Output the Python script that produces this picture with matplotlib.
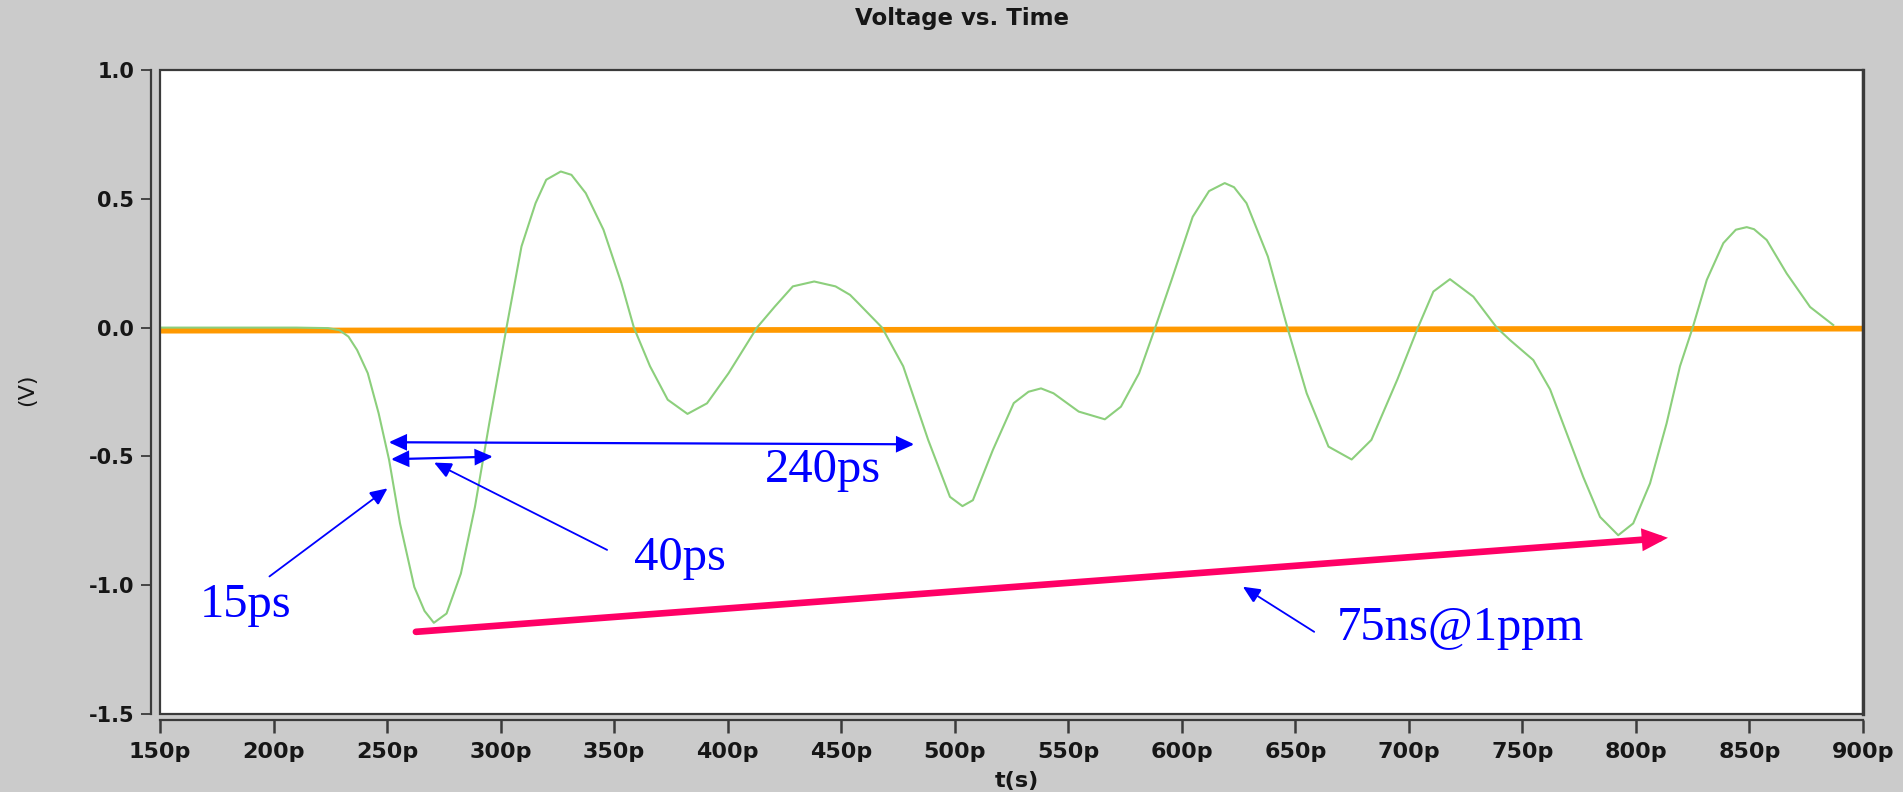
import matplotlib
matplotlib.use("Agg")
import matplotlib.pyplot as plt
from matplotlib.patches import ArrowStyle, Rectangle

# ---------------- data ----------------
title = "Voltage vs. Time"
x_label = "t(s)"
y_label = "(V)"

x_ticks = [150, 200, 250, 300, 350, 400, 450, 500, 550, 600, 650, 700, 750, 800, 850, 900]
x_tick_labels = ["150p", "200p", "250p", "300p", "350p", "400p", "450p", "500p",
                 "550p", "600p", "650p", "700p", "750p", "800p", "850p", "900p"]
y_ticks = [-1.5, -1.0, -0.5, 0.0, 0.5, 1.0]
y_tick_labels = ["-1.5", "-1.0", "-0.5", "0.0", "0.5", "1.0"]

# green trace (time in ps, voltage in V)
green_t = [150, 180, 210, 224, 229, 233, 236.8, 241.5, 246.3, 250.9, 255.7, 262, 266.5,
           270.6, 276.2, 282.5, 288.7, 295, 302.6, 309.2, 315.4, 320.1, 326.5, 331.2,
           337.5, 345.3, 353.2, 358.7, 365.8, 373.6, 382.3, 390.9, 400.4, 412.9, 420.8,
           428.7, 438.1, 447.5, 453.9, 457.5, 468, 477.3, 488.3, 497.9, 503.4, 508,
           516.8, 526, 532.5, 538, 543.5, 554.6, 566.1, 573.2, 581.2, 588.3, 595.5,
           604.8, 612, 618.9, 623, 628.5, 637.9, 646.5, 655, 664.6, 674.8, 683.5, 695,
           704, 710.8, 718.1, 728.4, 738.7, 744.5, 754.8, 762.2, 769.5, 776.8, 784.2,
           792.2, 798.8, 806.2, 813.5, 819.4, 825, 831.2, 838.5, 844, 848.8, 852, 857.6,
           866.4, 876.7, 886.9]
green_v = [0.0, 0.0, 0.0, -0.002, -0.01, -0.035, -0.087, -0.177, -0.333, -0.514, -0.76,
           -1.007, -1.10, -1.146, -1.11, -0.955, -0.696, -0.372, 0.0, 0.315, 0.483, 0.574,
           0.606, 0.593, 0.522, 0.38, 0.172, 0.0, -0.15, -0.28, -0.335, -0.294, -0.177,
           0.0, 0.082, 0.16, 0.179, 0.16, 0.127, 0.095, 0.0, -0.15, -0.436, -0.657,
           -0.693, -0.67, -0.475, -0.293, -0.249, -0.236, -0.255, -0.326, -0.356, -0.307,
           -0.177, 0.0, 0.185, 0.43, 0.53, 0.561, 0.545, 0.483, 0.276, 0.0, -0.255,
           -0.462, -0.512, -0.436, -0.2, 0.0, 0.14, 0.188, 0.12, 0.0, -0.048, -0.126,
           -0.24, -0.41, -0.58, -0.735, -0.806, -0.76, -0.605, -0.372, -0.15, 0.0, 0.185,
           0.328, 0.38, 0.39, 0.382, 0.34, 0.21, 0.08, 0.01]

# orange reference trace
orange_t = [150, 900]
orange_v = [-0.012, -0.004]

# annotation labels
ann_texts = ["15ps", "40ps", "240ps", "75ns@1ppm"]

# ---------------- figure ----------------
W, H = 1903, 792
BG = "#cbcbcb"
AX_C = "#3a3a3a"
BLUE = "#0000ff"
PINK = "#ff0066"

fig = plt.figure(figsize=(W / 100, H / 100), dpi=100, facecolor=BG)
ax = fig.add_axes([160 / W, 1 - 714 / H, 1703 / W, 644 / H])
ax.set_facecolor("white")
ax.set_xlim(150, 900)
ax.set_ylim(-1.5, 1.0)

# spines: offset axis lines like the original
for s in ("top", "right"):
    ax.spines[s].set_visible(False)
ax.spines["left"].set_position(("outward", 6.5))
ax.spines["bottom"].set_position(("outward", 4))
for s in ("left", "bottom"):
    ax.spines[s].set_color(AX_C)
    ax.spines[s].set_linewidth(1.6)

# plot frame
ax.add_patch(Rectangle((0, 0), 1, 1, transform=ax.transAxes, fill=False,
                       edgecolor=AX_C, linewidth=1.6, clip_on=False, zorder=6))
ax.plot([1, 1], [0, 1], transform=ax.transAxes, color=AX_C, lw=2.4,
        clip_on=False, zorder=6)

ax.set_xticks(x_ticks)
ax.set_xticklabels(x_tick_labels)
ax.set_yticks(y_ticks)
ax.set_yticklabels(y_tick_labels)
ax.tick_params(axis="x", direction="out", length=9.5, width=1.8, pad=7,
               color=AX_C, labelcolor="#161616", labelsize=16)
ax.tick_params(axis="y", direction="out", length=7, width=1.3, pad=5,
               color=AX_C, labelcolor="#161616", labelsize=15)
for lab in ax.get_xticklabels() + ax.get_yticklabels():
    lab.set_fontfamily("DejaVu Sans")
    lab.set_fontweight("bold")

# traces
ax.plot(orange_t, orange_v, color="#ff9900", lw=4.1, solid_capstyle="butt", zorder=3)
ax.plot(green_t, green_v, color="#8ccf7c", lw=1.5, zorder=4)

# annotations
def arrow(tail, tip, style, lw, color, hl, hw):
    ax.annotate("", xy=tip, xytext=tail,
                arrowprops=dict(arrowstyle=ArrowStyle(style, head_length=hl, head_width=hw),
                                mutation_scale=1, lw=lw, color=color,
                                shrinkA=0, shrinkB=0, joinstyle="miter"),
                zorder=7)

# 240ps span
arrow((482.2, -0.453), (250.7, -0.445), "<|-|>", 1.6, BLUE, 10.5, 4.8)
# 40ps span
arrow((296.6, -0.501), (251.7, -0.511), "<|-|>", 1.6, BLUE, 10.5, 4.8)
# 40ps pointer
arrow((346.9, -0.863), (270.7, -0.524), "-|>", 1.3, BLUE, 10.5, 4.8)
# 15ps pointer
arrow((198.2, -0.966), (250.2, -0.624), "-|>", 1.3, BLUE, 10.5, 4.8)
# 75ns pointer
arrow((658.3, -1.181), (626.9, -1.006), "-|>", 1.3, BLUE, 10.5, 4.8)
# pink drift arrow
arrow((262.7, -1.181), (814.1, -0.816), "-|>", 4.8, PINK, 10.5, 4.6)

serif = ["Liberation Serif", "DejaVu Serif"]
ax.text(167.6, -1.122, ann_texts[0], color=BLUE, fontsize=35, family=serif,
        ha="left", va="baseline", zorder=8)
ax.text(358.7, -0.941, ann_texts[1], color=BLUE, fontsize=35, family=serif,
        ha="left", va="baseline", zorder=8)
ax.text(416.3, -0.599, ann_texts[2], color=BLUE, fontsize=35, family=serif,
        ha="left", va="baseline", zorder=8)
ax.text(668.3, -1.213, ann_texts[3], color=BLUE, fontsize=35, family=serif,
        ha="left", va="baseline", zorder=8)

# titles / axis labels
fig.text(962 / W, 1 - 19 / H, title, ha="center", va="center", fontsize=16.5,
         fontweight="bold", color="#161616", family="DejaVu Sans")
fig.text(1017 / W, 1 - 781 / H, x_label, ha="center", va="center", fontsize=16,
         fontweight="bold", color="#161616", family="DejaVu Sans")
fig.text(27 / W, 1 - 390 / H, y_label, ha="center", va="center", rotation=90,
         fontsize=16, color="#161616", family="DejaVu Sans")

fig.savefig("out.png", dpi=100, facecolor=BG)
